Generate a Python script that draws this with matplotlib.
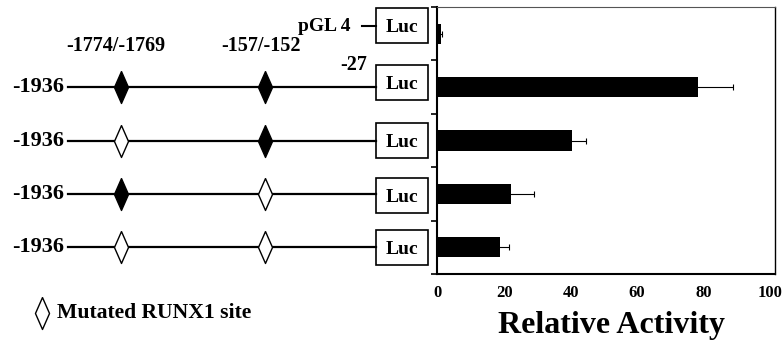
import matplotlib
matplotlib.use("Agg")
from matplotlib import pyplot as plt
from matplotlib.patches import Rectangle

# data
constructs = ["pGL 4", "-1936", "-1936", "-1936", "-1936"]
site_labels = ["-1774/-1769", "-157/-152"]
# True = intact RUNX1 site, False = mutated
site_status = [None, [True, True], [False, True], [True, False], [False, False]]
activity = [0.8, 78.5, 40.5, 22.0, 18.6]
activity_err = [0.4, 10.3, 4.2, 6.9, 2.8]
xticks = [0, 20, 40, 60, 80, 100]

plt.rcParams['font.family'] = ['Liberation Serif', 'DejaVu Serif']
plt.rcParams['font.weight'] = 'bold'

W, H = 783, 343
fig = plt.figure(figsize=(W / 100, H / 100), dpi=100)

ax_left, ax_right, ax_top, ax_bot = 437, 775, 7, 274
pos_y = (H - ax_bot) / H
pos_h = (ax_bot - ax_top) / H

ax = fig.add_axes([ax_left / W, pos_y, (ax_right - ax_left) / W, pos_h])
n = len(activity)
ypos = list(range(n))
ax.barh(ypos, activity, height=0.38, color='black', xerr=activity_err,
        error_kw=dict(ecolor='black', elinewidth=0.8, capsize=2, capthick=0.8))
ax.set_ylim(n - 0.5, -0.5)
ax.set_xlim(-0.3, 101.6)
ax.set_yticks([i - 0.5 for i in range(n + 1)])
ax.set_yticklabels([])
ax.tick_params(axis='y', direction='out', length=4, width=1.2)
ax.set_xticks(xticks)
ax.set_xticklabels([str(t) for t in xticks], fontsize=12, fontweight='bold')
ax.tick_params(axis='x', length=0, pad=8)
ax.spines['left'].set_linewidth(1.5)
ax.spines['bottom'].set_linewidth(1.5)
ax.spines['top'].set_linewidth(0.8)
ax.spines['top'].set_color('#555555')
ax.spines['right'].set_linewidth(1.0)

fig.text(612 / W, 1 - 325 / H, "Relative Activity", fontsize=23,
         fontweight='bold', ha='center', va='center')

# construct diagram, x in pixels, y in row units
dg = fig.add_axes([0, pos_y, ax_left / W, pos_h])
dg.set_xlim(0, ax_left)
dg.set_ylim(n - 0.5, -0.5)
dg.axis('off')
u = n / (ax_bot - ax_top)  # row units per pixel

diamond = [(0, 1), (0.44, 0), (0, -1), (-0.44, 0), (0, 1)]
site_x = [121, 265]
box_x0, box_w, box_h = 376, 52, 35 * u
box_shift = [-8 * u, -5 * u, 0, 2 * u, 0]

for i, name in enumerate(constructs):
    yc = i + box_shift[i]
    dg.add_patch(Rectangle((box_x0, yc - box_h / 2), box_w, box_h,
                           facecolor='white', edgecolor='black', lw=1.2))
    dg.text(box_x0 + box_w / 2, yc + 2 * u, "Luc", fontsize=14,
            fontweight='bold', ha='center', va='center')
    if site_status[i] is None:
        dg.plot([362, box_x0], [yc, yc], color='black', lw=1.5)
        dg.text(351, yc + 1 * u, name, fontsize=14, fontweight='bold',
                ha='right', va='center')
        continue
    dg.plot([68, box_x0], [i, i], color='black', lw=1.6)
    dg.text(64, i, name, fontsize=16, fontweight='bold', ha='right',
            va='center')
    for sx, intact in zip(site_x, site_status[i]):
        dg.plot(sx, i, marker=diamond, markersize=23,
                markerfacecolor='black' if intact else 'white',
                markeredgecolor='black', markeredgewidth=1.0)

dg.text(116, 1 - 41 * u, site_labels[0], fontsize=14.5, fontweight='bold',
        ha='center', va='center')
dg.text(261, 1 - 41 * u, site_labels[1], fontsize=14.5, fontweight='bold',
        ha='center', va='center')
dg.text(354, 1 - 22 * u, "-27", fontsize=14.5, fontweight='bold',
        ha='center', va='center')

leg_y = (313 - ax_top) * u - 0.5
dg.plot(42, leg_y, marker=diamond, markersize=23, markerfacecolor='white',
        markeredgecolor='black', markeredgewidth=1.0, clip_on=False)
dg.text(57, leg_y, "Mutated RUNX1 site", fontsize=15.6, fontweight='bold',
        ha='left', va='center', clip_on=False)

fig.savefig("out.png", dpi=100)
